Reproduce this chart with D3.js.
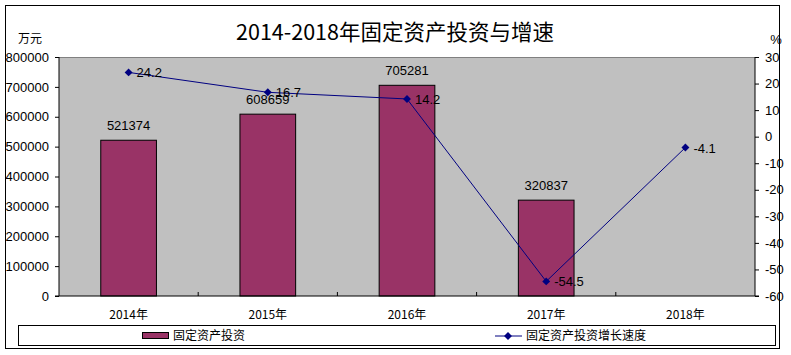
<!DOCTYPE html>
<html><head><meta charset="utf-8">
<script src="https://cdn.jsdelivr.net/npm/d3@7"></script>
<style>body{margin:0;background:#fff}svg{display:block}</style>
</head><body><svg id="c" width="791" height="355"></svg>
<script>
const categories = ["2014年","2015年","2016年","2017年","2018年"];
const investment = [521374, 608659, 705281, 320837, null];
const growth = [24.2, 16.7, 14.2, -54.5, -4.1];
const leftTicks = [0,100000,200000,300000,400000,500000,600000,700000,800000];
const rightTicks = [-60,-50,-40,-30,-20,-10,0,10,20,30];
const title = "2014-2018年固定资产投资与增速";
const seriesNames = ["固定资产投资","固定资产投资增长速度"];

const svg = d3.select("#c");
const L = 59, R = 755, T = 57, B = 296;
const cjk = "'Noto Sans CJK SC', sans-serif";
const num = "Arial, 'Liberation Sans', sans-serif";

svg.append("rect").attr("x",5.5).attr("y",5.5).attr("width",774).attr("height",343).attr("fill","#fff").attr("stroke","#000");

svg.append("text").attr("x",395).attr("y",40).attr("text-anchor","middle").attr("font-family",cjk).attr("font-size",21.5).text(title);
svg.append("text").attr("x",30).attr("y",43).attr("text-anchor","middle").attr("font-family",cjk).attr("font-size",12).text("万元");
svg.append("text").attr("x",776).attr("y",44).attr("text-anchor","middle").attr("font-family",num).attr("font-size",13).text("%");

const x = d3.scaleBand().domain(categories).range([L,R]);
const yL = d3.scaleLinear().domain([0,800000]).range([B,T]);
const yR = d3.scaleLinear().domain([-60,30]).range([B,T]);

svg.append("rect").attr("x",L).attr("y",T).attr("width",R-L).attr("height",B-T).attr("fill","#C0C0C0");
svg.append("line").attr("x1",L).attr("x2",R).attr("y1",T+0.5).attr("y2",T+0.5).attr("stroke","#808080");

const bw = x.bandwidth()*0.4;
svg.append("g").selectAll("rect").data(categories.map((c,i)=>({c,v:investment[i]})).filter(d=>d.v!=null))
 .join("rect").attr("x",d=>x(d.c)+x.bandwidth()/2-bw/2).attr("y",d=>yL(d.v)).attr("width",bw).attr("height",d=>B-yL(d.v))
 .attr("fill","#993366").attr("stroke","#000").attr("stroke-width",1);
svg.append("g").selectAll("text").data(categories.map((c,i)=>({c,v:investment[i]})).filter(d=>d.v!=null))
 .join("text").attr("x",d=>x(d.c)+x.bandwidth()/2).attr("y",d=>yL(d.v)-10).attr("text-anchor","middle")
 .attr("font-family",num).attr("font-size",13).text(d=>d.v);

// axes
const gl = svg.append("g").attr("transform",`translate(${L},0)`).call(d3.axisLeft(yL).tickValues(leftTicks).tickSize(4).tickPadding(6).tickFormat(d=>d));
const gr = svg.append("g").attr("transform",`translate(${R},0)`).call(d3.axisRight(yR).tickValues(rightTicks).tickSize(4).tickPadding(6).tickFormat(d=>d));
[gl,gr].forEach(g=>{g.selectAll("text").attr("font-family",num).attr("font-size",13).attr("fill","#000");g.selectAll("line,path").attr("stroke","#000");});
gl.select(".domain").attr("d",`M-4,${B}H0V${T}`);
gr.select(".domain").attr("d",`M4,${B}H0V${T}`);
svg.append("line").attr("x1",L).attr("x2",R).attr("y1",B).attr("y2",B).attr("stroke","#000");
const gb = svg.append("g");
categories.slice(1).forEach(c=>{gb.append("line").attr("x1",x(c)).attr("x2",x(c)).attr("y1",B).attr("y2",B-4).attr("stroke","#000");});
svg.append("g").selectAll("text").data(categories).join("text").attr("x",d=>x(d)+x.bandwidth()/2).attr("y",319)
 .attr("text-anchor","middle").attr("font-family",cjk).attr("font-size",12).text(d=>d);

// line
const cx = c=>x(c)+x.bandwidth()/2;
const line = d3.line().x((d,i)=>cx(categories[i])).y(d=>yR(d));
svg.append("path").attr("d",line(growth)).attr("fill","none").attr("stroke","#000080").attr("stroke-width",1);
const diamond = d3.symbol().type(d3.symbolDiamond2).size(40);
svg.append("g").selectAll("path").data(growth).join("path").attr("d",diamond)
 .attr("transform",(d,i)=>`translate(${cx(categories[i])},${yR(d)})`).attr("fill","#000080");
svg.append("g").selectAll("text").data(growth).join("text").attr("x",(d,i)=>cx(categories[i])+8).attr("y",d=>yR(d)+5)
 .attr("font-family",num).attr("font-size",13).text(d=>d);

// legend
svg.append("rect").attr("x",18.5).attr("y",325.5).attr("width",757).attr("height",20).attr("fill","#fff").attr("stroke","#000");
svg.append("rect").attr("x",142.5).attr("y",332.5).attr("width",26).attr("height",6).attr("fill","#993366").attr("stroke","#000");
svg.append("text").attr("x",173).attr("y",340).attr("font-family",cjk).attr("font-size",12).text(seriesNames[0]);
svg.append("line").attr("x1",495).attr("x2",522).attr("y1",336).attr("y2",336).attr("stroke","#000080");
svg.append("path").attr("d",diamond).attr("transform","translate(508,336)").attr("fill","#000080");
svg.append("text").attr("x",526).attr("y",340).attr("font-family",cjk).attr("font-size",12).text(seriesNames[1]);
</script></body></html>
